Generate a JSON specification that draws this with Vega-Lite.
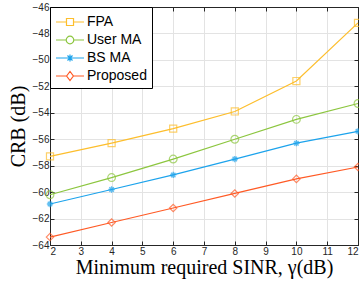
{
  "$schema": "https://vega.github.io/schema/vega-lite/v6.json",
  "width": 308,
  "height": 238,
  "autosize": {"type": "none"},
  "padding": {"left": 50, "top": 7, "right": 1, "bottom": 40},
  "background": "white",
  "config": {
    "view": {"stroke": "#262626", "strokeWidth": 1},
    "axis": {
      "domainColor": "#262626",
      "tickColor": "#262626",
      "tickSize": -4,
      "labelColor": "#262626",
      "labelFont": "Liberation Sans",
      "labelFontSize": 10,
      "gridColor": "#e3e3e3",
      "gridWidth": 1,
      "titleFont": "Liberation Serif",
      "titleFontWeight": "normal",
      "titleColor": "#000000",
      "titleFontSize": 20
    }
  },
  "data": {
    "values": [
      {"x": 2, "s": "FPA", "y": -57.3},
      {"x": 4, "s": "FPA", "y": -56.3},
      {"x": 6, "s": "FPA", "y": -55.2},
      {"x": 8, "s": "FPA", "y": -53.9},
      {"x": 10, "s": "FPA", "y": -51.6},
      {"x": 12, "s": "FPA", "y": -47.2},
      {"x": 2, "s": "User MA", "y": -60.2},
      {"x": 4, "s": "User MA", "y": -58.9},
      {"x": 6, "s": "User MA", "y": -57.5},
      {"x": 8, "s": "User MA", "y": -56.0},
      {"x": 10, "s": "User MA", "y": -54.5},
      {"x": 12, "s": "User MA", "y": -53.3},
      {"x": 2, "s": "BS MA", "y": -60.9},
      {"x": 4, "s": "BS MA", "y": -59.8},
      {"x": 6, "s": "BS MA", "y": -58.7},
      {"x": 8, "s": "BS MA", "y": -57.5},
      {"x": 10, "s": "BS MA", "y": -56.3},
      {"x": 12, "s": "BS MA", "y": -55.4},
      {"x": 2, "s": "Proposed", "y": -63.4},
      {"x": 4, "s": "Proposed", "y": -62.3},
      {"x": 6, "s": "Proposed", "y": -61.2},
      {"x": 8, "s": "Proposed", "y": -60.1},
      {"x": 10, "s": "Proposed", "y": -59.0},
      {"x": 12, "s": "Proposed", "y": -58.1}
    ]
  },
  "layer": [
    {
      "mark": {"type": "line", "strokeWidth": 1.2},
      "encoding": {
        "x": {"field": "x", "type": "quantitative", "scale": {"domain": [2, 12], "nice": false},
          "axis": {"orient": "bottom", "values": [2,3,4,5,6,7,8,9,10,11,12], "title": "Minimum required SINR, γ(dB)", "titlePadding": 1, "labelPadding": 5}},
        "y": {"field": "y", "type": "quantitative", "scale": {"domain": [-64, -46], "nice": false, "zero": false},
          "axis": {"orient": "left", "values": [-64,-62,-60,-58,-56,-54,-52,-50,-48,-46], "title": "CRB (dB)", "titlePadding": 4, "labelPadding": 5}},
        "color": {"field": "s", "type": "nominal",
          "scale": {"domain": ["FPA", "User MA", "BS MA", "Proposed"], "range": ["#FDBE2C", "#8CC63F", "#1CA3EC", "#FF5A25"]},
          "legend": {
            "title": null,
            "orient": "top-left",
            "offset": 0,
            "padding": 5,
            "strokeColor": "#000000",
            "fillColor": "#ffffff",
            "labelFont": "Liberation Sans",
            "labelFontSize": 14,
            "labelColor": "#000000",
            "symbolSize": 324,
            "symbolOffset": 5,
            "symbolStrokeWidth": 1.2,
            "rowPadding": 1,
            "labelOffset": 7,
            "encode": {
              "symbols": {
                "update": {
                  "shape": {"signal": "datum.value == 'FPA' ? 'M-1.556,0H-0.39M0.39,0H1.556M-0.39,-0.39H0.39V0.39H-0.39Z' : datum.value == 'User MA' ? 'M-1.556,0H-0.42M0.42,0H1.556M-0.42,0A0.42,0.42,0,1,0,0.42,0A0.42,0.42,0,1,0,-0.42,0' : datum.value == 'BS MA' ? 'M-1.556,0H1.556M0,-0.4V0.4M-0.28,-0.28L0.28,0.28M-0.28,0.28L0.28,-0.28' : 'M-1.556,0H-0.38M0.38,0H1.556M-0.38,0L0,-0.5L0.38,0L0,0.5Z'"},
                  "fill": {"value": "transparent"},
                  "strokeWidth": {"value": 1.2}
                }
              }
            }
          }
        }
      }
    },
    {
      "transform": [{"filter": "datum.s == 'FPA'"}],
      "mark": {"type": "point", "filled": false, "shape": "square", "size": 50, "strokeWidth": 1.2},
      "encoding": {
        "x": {"field": "x", "type": "quantitative", "axis": {"orient": "top", "labels": false, "grid": false, "title": null, "values": [2,3,4,5,6,7,8,9,10,11,12]}},
        "y": {"field": "y", "type": "quantitative", "axis": {"orient": "right", "labels": false, "grid": false, "title": null, "values": [-64,-62,-60,-58,-56,-54,-52,-50,-48,-46]}},
        "color": {"field": "s", "type": "nominal"}
      }
    },
    {
      "transform": [{"filter": "datum.s == 'User MA'"}],
      "mark": {"type": "point", "filled": false, "shape": "circle", "size": 60, "strokeWidth": 1.2},
      "encoding": {
        "x": {"field": "x", "type": "quantitative", "axis": null},
        "y": {"field": "y", "type": "quantitative", "axis": null},
        "color": {"field": "s", "type": "nominal"}
      }
    },
    {
      "transform": [{"filter": "datum.s == 'BS MA'"}],
      "mark": {"type": "point", "filled": false, "shape": "M-1,0H1M0,-1V1M-0.7,-0.7L0.7,0.7M-0.7,0.7L0.7,-0.7", "size": 40, "strokeWidth": 1.4},
      "encoding": {
        "x": {"field": "x", "type": "quantitative", "axis": null},
        "y": {"field": "y", "type": "quantitative", "axis": null},
        "color": {"field": "s", "type": "nominal"}
      }
    },
    {
      "transform": [{"filter": "datum.s == 'Proposed'"}],
      "mark": {"type": "point", "filled": false, "shape": "diamond", "size": 55, "strokeWidth": 1.2},
      "encoding": {
        "x": {"field": "x", "type": "quantitative", "axis": null},
        "y": {"field": "y", "type": "quantitative", "axis": null},
        "color": {"field": "s", "type": "nominal"}
      }
    }
  ],
  "resolve": {"axis": {"x": "independent", "y": "independent"}}
}
